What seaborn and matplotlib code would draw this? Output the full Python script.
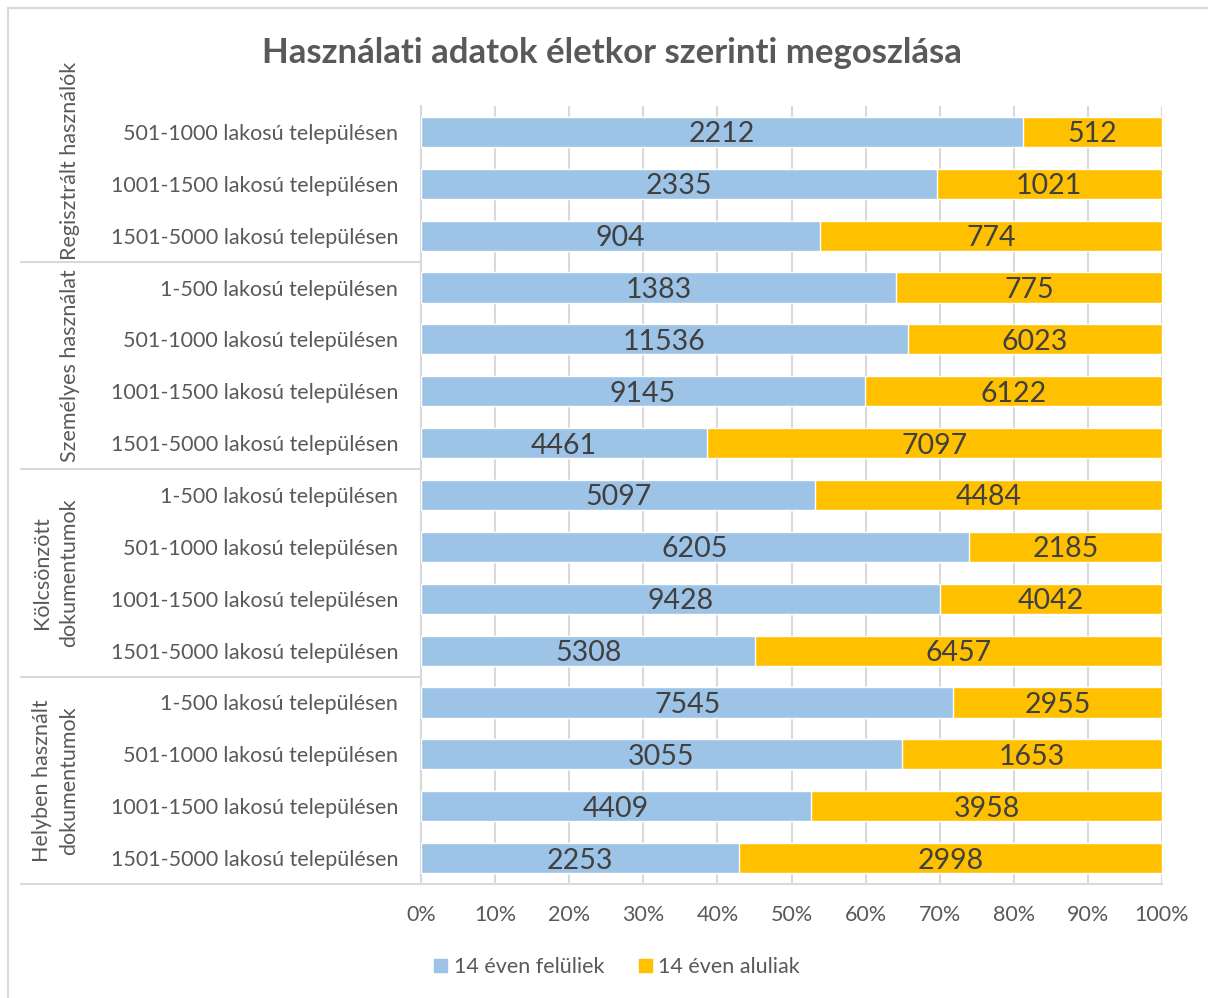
import pandas as pd
import numpy as np
import matplotlib.pyplot as plt
import seaborn as sns
from matplotlib.lines import Line2D
from matplotlib.patches import Rectangle
import matplotlib.transforms as mtransforms

# adatok (fentről lefelé)
groups = ['Regisztrált használók', 'Személyes használat',
          'Kölcsönzött\ndokumentumok', 'Helyben használt\ndokumentumok']
group_sizes = [3, 4, 4, 4]
row_labels = [
    '501-1000 lakosú településen', '1001-1500 lakosú településen', '1501-5000 lakosú településen',
    '1-500 lakosú településen', '501-1000 lakosú településen', '1001-1500 lakosú településen', '1501-5000 lakosú településen',
    '1-500 lakosú településen', '501-1000 lakosú településen', '1001-1500 lakosú településen', '1501-5000 lakosú településen',
    '1-500 lakosú településen', '501-1000 lakosú településen', '1001-1500 lakosú településen', '1501-5000 lakosú településen',
]
over_14 = [2212, 2335, 904,
           1383, 11536, 9145, 4461,
           5097, 6205, 9428, 5308,
           7545, 3055, 4409, 2253]
under_14 = [512, 1021, 774,
            775, 6023, 6122, 7097,
            4484, 2185, 4042, 6457,
            2955, 1653, 3958, 2998]
series_names = ['14 éven felüliek', '14 éven aluliak']

BLUE = '#9DC3E6'
ORANGE = '#FFC000'
GRID = '#D9D9D9'
TXT = '#595959'

sns.set_style('white')
plt.rcParams['font.family'] = ['Lato', 'DejaVu Sans']

df = pd.DataFrame({'label': row_labels, 'over': over_14, 'under': under_14})
df['row'] = [f'r{i}' for i in range(len(df))]
df['total'] = df['over'] + df['under']
df['over_pct'] = df['over'] / df['total'] * 100
df['full'] = 100.0

W, H = 1208, 998
fig = plt.figure(figsize=(W / 100, H / 100), dpi=100)
ax = fig.add_axes([421 / W, 1 - 884 / H, (1162 - 421) / W, (884 - 106) / H])

# külső keret
fig.patches.append(Rectangle((8 / W, -0.1), 1.2, 1 - 8 / H + 0.1, transform=fig.transFigure,
                             fill=False, edgecolor=GRID, linewidth=1.5))

order = list(df['row'])
sns.barplot(data=df, x='full', y='row', order=order, color=ORANGE, saturation=1,
            width=0.58, orient='h', ax=ax, zorder=2)
sns.barplot(data=df, x='over_pct', y='row', order=order, color=BLUE, saturation=1,
            width=0.58, orient='h', ax=ax, zorder=3)

# értékcímkék
for i, r in df.iterrows():
    ax.text(r['over_pct'] / 2, i, f"{r['over']}", ha='center', va='center_baseline',
            fontsize=20.5, color='#404040', zorder=4)
    ax.text((r['over_pct'] + 100) / 2, i, f"{r['under']}", ha='center', va='center_baseline',
            fontsize=20.5, color='#404040', zorder=4)

ax.set_xlim(0, 100)
ax.set_ylim(len(df) - 0.5, -0.5)
ax.set_xticks(np.arange(0, 101, 10))
ax.set_xticklabels([f'{v}%' for v in range(0, 101, 10)], fontsize=15.5, color=TXT)
ax.set_yticks(range(len(df)))
ax.set_yticklabels(row_labels, fontsize=15.5, color=TXT)
ax.tick_params(axis='y', length=0, pad=16.5)
ax.tick_params(axis='x', length=10, width=1.5, color=GRID, pad=5, direction='out')
ax.set_xlabel('')
ax.set_ylabel('')
ax.grid(axis='x', color=GRID, linewidth=1.5, zorder=0)
ax.set_axisbelow(True)
for s in ['top', 'right']:
    ax.spines[s].set_visible(False)
for s in ['left', 'bottom']:
    ax.spines[s].set_color(GRID)
    ax.spines[s].set_linewidth(1.5)

# csoport elválasztók és feliratok
trans = mtransforms.blended_transform_factory(fig.transFigure, ax.transData)
start = 0
for gi, (g, n) in enumerate(zip(groups, group_sizes)):
    end = start + n
    yb = end - 0.5
    fig.add_artist(Line2D([21 / W, 421 / W], [yb, yb], transform=trans,
                          color=GRID, linewidth=1.5))
    yc = (start - 0.5 + yb) / 2
    if gi == 0:
        yc = yc - 0.45
    fig.text(70 / W if '\n' not in g else 56 / W, yc, g, transform=trans, rotation=90,
             ha='center', va='center', fontsize=15.5, color=TXT, linespacing=1.45)
    start = end

fig.text(612 / W, 1 - 53 / H, 'Használati adatok életkor szerinti megoszlása',
         ha='center', va='center', fontsize=25, fontweight='bold', color=TXT)

handles = [Rectangle((0, 0), 1, 1, color=BLUE), Rectangle((0, 0), 1, 1, color=ORANGE)]
fig.legend(handles, series_names, loc='center', bbox_to_anchor=(617 / W, 1 - 967 / H),
           ncol=2, frameon=False, fontsize=15.5, handlelength=0.6, handleheight=0.6,
           handletextpad=0.3, columnspacing=1.6, labelcolor=TXT)

fig.savefig('out.png', dpi=100)
